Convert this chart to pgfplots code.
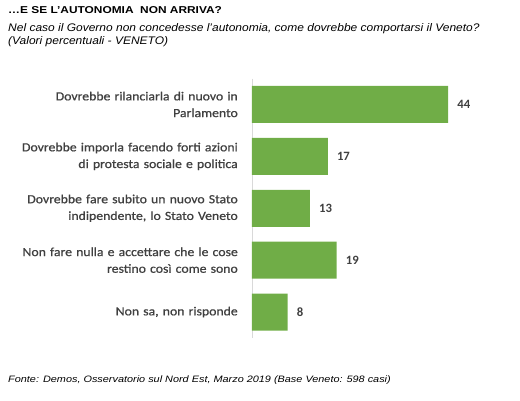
\documentclass[border=0pt]{standalone}
\usepackage{pgfplots}
\pgfplotsset{compat=1.18}
\usepackage{fontspec}
\setmainfont{Carlito}
\newfontfamily\labfont[FakeStretch=1.11, FakeBold=0.8]{Carlito}
\newfontfamily\titlefont[FakeStretch=1.19, UprightFont=*-Bold]{Liberation Sans}
\newfontfamily\subfont[FakeStretch=1.09]{Liberation Sans}
\newfontfamily\footfont[FakeStretch=1.17]{Liberation Sans}
\definecolor{bargreen}{HTML}{70AD47}
\definecolor{labgray}{HTML}{404040}
\definecolor{valgray}{HTML}{404040}
\definecolor{axgray}{HTML}{D9D9D9}
\begin{document}
\begin{tikzpicture}[x=1pt,y=1pt]
\path[use as bounding box] (0,0) rectangle (520,400);
\node[anchor=base west, inner sep=0, font=\titlefont\fontsize{10}{12}\selectfont] at (8,386) {…E SE L’AUTONOMIA\ \ NON ARRIVA?};
\node[anchor=base west, inner sep=0, font=\subfont\itshape\fontsize{11}{13}\selectfont] at (8,368) {Nel caso il Governo non concedesse l’autonomia, come dovrebbe comportarsi il Veneto?};
\node[anchor=base west, inner sep=0, font=\subfont\itshape\fontsize{11}{13}\selectfont] at (8,355) {(Valori percentuali - VENETO)};
\node[anchor=base west, inner sep=0, font=\footfont\itshape\fontsize{9.3}{11}\selectfont] at (8,18) {Fonte: Demos, Osservatorio sul Nord Est, Marzo 2019 (Base Veneto: 598 casi)};
\begin{axis}[
  at={(252pt,62pt)}, anchor=south west,
  scale only axis, width=223pt, height=259.5pt,
  xbar, bar width=37pt,
  xmin=0, xmax=50, ymin=-0.5, ymax=4.5, y dir=reverse,
  axis x line=none, axis y line*=left,
  y axis line style={draw=axgray, line width=0.8pt},
  ytick={0,1,2,3,4}, major tick length=0pt, ytick style={draw=none},
  yticklabels={{Dovrebbe rilanciarla di nuovo in\\Parlamento},
               {Dovrebbe imporla facendo forti azioni\\di protesta sociale e politica},
               {Dovrebbe fare subito un nuovo Stato\\indipendente, lo Stato Veneto},
               {Non fare nulla e accettare che le cose\\restino così come sono},
               {Non sa, non risponde}},
  yticklabel style={font=\labfont\fontsize{12.4}{16.7}\selectfont, color=labgray, align=right, text width=230pt, anchor=east, inner sep=0pt, xshift=-14pt},
  point meta=x,
  /pgf/number format/assume math mode=true,
  nodes near coords,
  every node near coord/.append style={font=\bfseries\fontsize{12.7}{15}\selectfont, color=valgray, anchor=west, inner sep=0pt, xshift=9pt},
]
\addplot[fill=bargreen, draw=none] coordinates {(44,0) (17,1) (13,2) (19,3) (8,4)};
\end{axis}
\end{tikzpicture}
\end{document}
